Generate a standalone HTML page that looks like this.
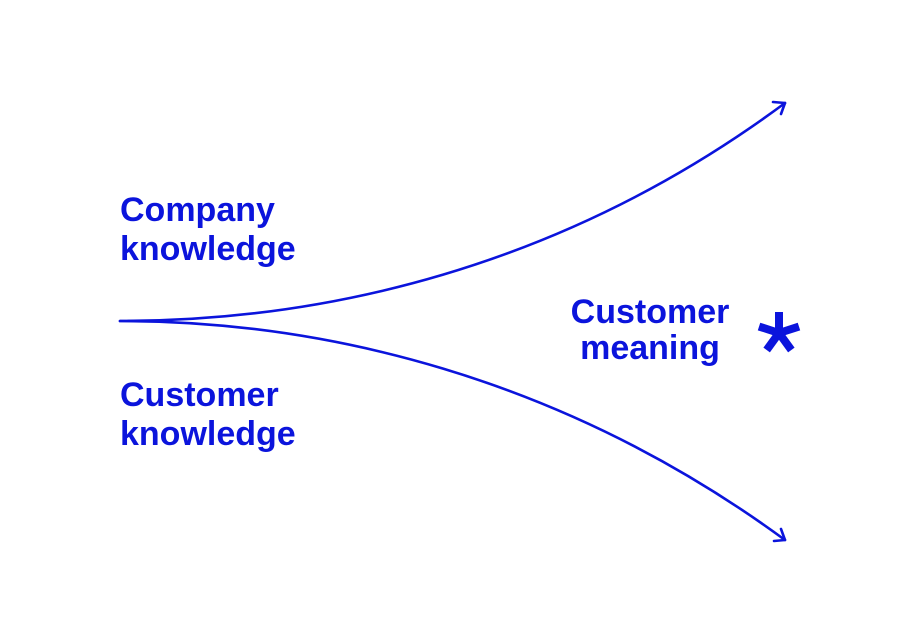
<!DOCTYPE html>
<html><head><style>html,body{margin:0;padding:0;background:#fff;}svg{display:block}</style></head>
<body>
<svg width="905" height="641" viewBox="0 0 905 641" xmlns="http://www.w3.org/2000/svg">
<g fill="none" stroke="#0b14dc" stroke-width="2.6" stroke-linecap="round" stroke-linejoin="round">
<path d="M120 321 C 320 321, 560 270, 785 103"/>
<path d="M773 102 L785 103 L781 114"/>
<path d="M120 321 C 320 321, 560 375, 785 540"/>
<path d="M781 529 L785 540 L774 541"/>
</g>
<g fill="#0b14dc" font-family="Liberation Sans, Arial, sans-serif" font-weight="bold" font-size="34" letter-spacing="0">
<text x="120" y="221">Company</text>
<text x="120" y="260">knowledge</text>
<text x="120" y="406">Customer</text>
<text x="120" y="445">knowledge</text>
<text x="650" y="323" text-anchor="middle">Customer</text>
<text x="650" y="359" text-anchor="middle">meaning</text>
</g>
<g fill="#0b14dc" transform="translate(779,333)">
<rect x="-4" y="-21" width="8" height="21"/>
<rect x="-4" y="-21" width="8" height="21" transform="rotate(72)"/>
<rect x="-4" y="-21" width="8" height="21" transform="rotate(144)"/>
<rect x="-4" y="-21" width="8" height="21" transform="rotate(216)"/>
<rect x="-4" y="-21" width="8" height="21" transform="rotate(288)"/>
</g>
</svg>
</body></html>
